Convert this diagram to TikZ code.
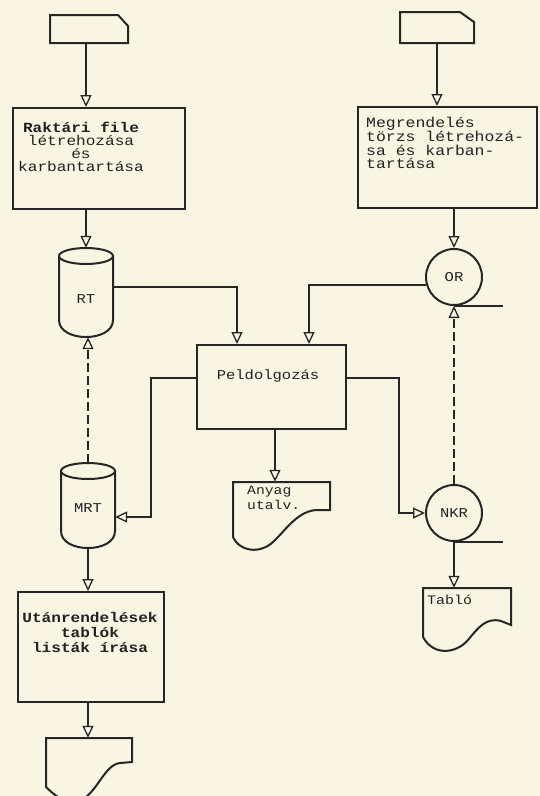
\documentclass[tikz,border=0pt]{standalone}
\usepackage{fontspec}
\newfontfamily\tw[FakeStretch=1.15]{Liberation Mono}
\usetikzlibrary{arrows.meta}
\definecolor{bg}{HTML}{F8F6E3}
\definecolor{ink}{HTML}{262626}
\definecolor{txt}{HTML}{222222}
\tikzset{
  conn/.style={draw=ink, line width=1.3pt, -{Triangle[open, length=12pt, width=11pt, line width=1.3pt]}},
  dconn/.style={conn, dash pattern=on 9pt off 4pt},
  shapeline/.style={draw=ink, line width=2pt, fill=bg, line join=miter},
  boxnode/.style={rectangle, draw=ink, line width=2pt, fill=bg, inner sep=0pt},
  ghost/.style={rectangle, draw=none, inner sep=0pt},
  tape/.style={circle, draw=ink, line width=2pt, fill=bg, minimum size=56pt, inner sep=0pt, font=\tw\fontsize{13.5}{15}\selectfont, text=txt},
  lbl/.style={inner sep=0pt, text=txt, font=\tw\fontsize{14}{13}\selectfont},
}
\begin{document}
\begin{tikzpicture}[x=1pt,y=-1pt]
\useasboundingbox (0,0) rectangle (540,796);
\fill[bg] (0,0) rectangle (540,796);
\clip (0,0) rectangle (540,796);

% cards
\draw[shapeline] (50,15) -- (118,15) -- (128,26) -- (128,43) -- (50,43) -- cycle;
\node[ghost, minimum width=78pt, minimum height=28pt] (card1) at (89,29) {};
\draw[shapeline] (400,12) -- (460,12) -- (474,22) -- (474,43) -- (400,43) -- cycle;
\node[ghost, minimum width=74pt, minimum height=31pt] (card2) at (437,27.5) {};

% process boxes
\node[boxnode, minimum width=172pt, minimum height=101pt] (box1) at (99,158.5) {};
\node[lbl, align=center] (box1text) at (81,147) {{\bfseries Raktári file}\\létrehozása\\és\\karbantartása};

\node[boxnode, minimum width=179pt, minimum height=101pt] (box2) at (447.5,157.5) {};
\node[lbl, align=left, anchor=west, font=\tw\fontsize{14.3}{13.3}\selectfont] (box2text) at (366,143) {Megrendelés\\törzs létrehozá-\\sa és karban-\\tartása};

\node[boxnode, minimum width=149pt, minimum height=84pt] (pel) at (271.5,387) {};
\node[lbl, font=\tw\fontsize{13.5}{15}\selectfont] (peltext) at (268,376) {Peldolgozás};

\node[boxnode, minimum width=146pt, minimum height=110pt] (box3) at (91,647) {};
\node[lbl, align=center, font=\tw\bfseries\fontsize{14}{15}\selectfont] (box3text) at (90,632) {Utánrendelések\\tablók\\listák írása};

% cylinders
\draw[shapeline] (59,256) -- (59,320) .. controls (59,342.7) and (113,342.7) .. (113,320) -- (113,256);
\draw[shapeline] (86,256) ellipse [x radius=27, y radius=8];
\node[ghost, minimum width=54pt, minimum height=89pt] (RT) at (86,292.5) {};
\node[lbl, font=\tw\fontsize{13.5}{15}\selectfont] (RTtext) at (86,299) {RT};

\draw[shapeline] (61,471) -- (61,531) .. controls (61,553.7) and (115,553.7) .. (115,531) -- (115,471);
\draw[shapeline] (88,471) ellipse [x radius=27, y radius=8];
\node[ghost, minimum width=54pt, minimum height=85pt] (MRT) at (88,505.5) {};
\node[lbl, font=\tw\fontsize{13.5}{15}\selectfont] (MRTtext) at (88,508) {MRT};

% tapes
\node[tape] (OR) at (454,277) {OR};
\draw[draw=ink, line width=2pt] (OR.south) -- ++(49,0);
\node[tape] (NKR) at (454,513) {NKR};
\draw[draw=ink, line width=2pt] (NKR.south) -- ++(49,0);

% documents
\draw[shapeline] (233,482) -- (330,482) -- (330,510) -- (318,510)
  .. controls (298,510) and (286,530) .. (273,542)
  .. controls (260,554) and (240,552) .. (233,537) -- cycle;
\node[ghost, minimum width=97pt, minimum height=70pt] (anyag) at (281.5,517) {};
\node[lbl, align=left, anchor=north west, font=\tw\fontsize{12.8}{14.5}\selectfont] (anyagtext) at (247,486) {Anyag\\utalv.};

\draw[shapeline] (423,588) -- (511,588) -- (511,625) -- (501,621)
  .. controls (486,617) and (478,628) .. (468,640)
  .. controls (457,653) and (434,657) .. (423,637) -- cycle;
\node[ghost, minimum width=88pt, minimum height=65pt] (tablo) at (467,620.5) {};
\node[lbl, anchor=west, font=\tw\fontsize{13}{15}\selectfont] (tablotext) at (427,600) {Tabló};

\draw[shapeline] (46,738) -- (132,738) -- (132,762) -- (120,763)
  .. controls (104,765) and (98,792) .. (80,801)
  .. controls (68,806) and (55,796) .. (46,787) -- cycle;
\node[ghost, minimum width=86pt, minimum height=62pt] (doc3) at (89,769) {};

% connectors
\draw[conn] (card1.south -| RT.north) -- (box1.north -| RT.north);
\draw[conn] (box1.south -| RT.north) -- (RT.north);
\draw[conn] (card2.south) -- (card2.south |- box2.north);
\draw[conn] (box2.south -| OR.north) -- (OR.north);
\draw[conn] ([yshift=5.5pt]RT.east) -| ([xshift=-34.5pt]pel.north);
\draw[conn] (OR.196.6) -| ([xshift=37.5pt]pel.north);
\draw[conn] ([yshift=9pt]pel.west) -- ++(-45,0) |- ([yshift=-11.5pt]MRT.east);
\draw[conn] ([yshift=9pt]pel.east) -- ++(52,0) |- (NKR.west);
\draw[conn] ([xshift=3.5pt]pel.south) -- ([xshift=3.5pt]pel.south |- anyag.north);
\draw[dconn] (MRT.north) -- (MRT.north |- RT.south);
\draw[dconn] (NKR.north) -- (OR.south);
\draw[conn] (MRT.south) -- (MRT.south |- box3.north);
\draw[conn] (box3.south -| MRT.south) -- (doc3.north -| MRT.south);
\draw[conn] (NKR.south) -- (NKR.south |- tablo.north);
\end{tikzpicture}
\end{document}
